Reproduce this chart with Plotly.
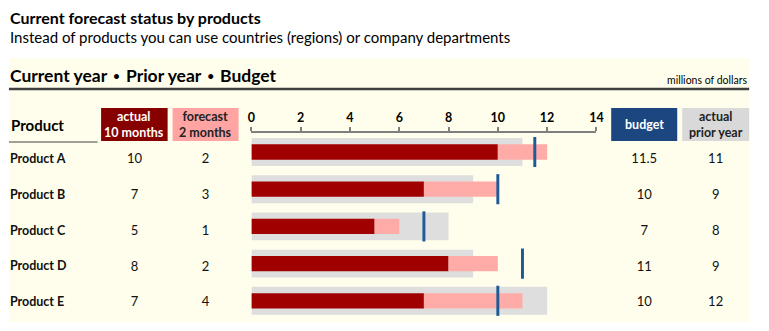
import plotly.graph_objects as go

# ---- data (millions of dollars) ----
products = ["Product A", "Product B", "Product C", "Product D", "Product E"]
actual_10m = [10, 7, 5, 8, 7]
forecast_2m = [2, 3, 1, 2, 4]
budget = [11.5, 10, 7, 11, 10]
prior_year = [11, 9, 8, 9, 12]
axis_ticks = [0, 2, 4, 6, 8, 10, 12, 14]

W, H = 769, 331

RED = "#A00000"
RED_BOX = "#870000"
PINK = "#FFABA8"
PINK_BOX = "#FFA3A3"
GREY = "#DEDEDE"
GREY_BOX = "#D9D9D9"
NAVY = "#1F5A96"
NAVY_BOX = "#1B4680"
CREAM = "#FFFEEC"
FONT = "Lato"
MARK_W = 0.12  # budget tick thickness in axis units


def px(x):
    return x / W


def py(y):
    return 1 - y / H


rows = list(range(len(products)))

fig = go.Figure()

# prior year (grey background bar)
fig.add_trace(go.Bar(
    y=rows, x=prior_year, orientation="h", width=0.75,
    marker=dict(color=GREY, line=dict(width=0)), xaxis="x", yaxis="y",
))
# actual 10 months
fig.add_trace(go.Bar(
    y=rows, x=actual_10m, orientation="h", width=0.41,
    marker=dict(color=RED, line=dict(width=0)), xaxis="x", yaxis="y",
))
# forecast 2 months, stacked after the actual value
fig.add_trace(go.Bar(
    y=rows, x=forecast_2m, base=actual_10m, orientation="h", width=0.41,
    marker=dict(color=PINK, line=dict(width=0)), xaxis="x", yaxis="y",
))
# budget marker: thin vertical bar centred on the budget value
fig.add_trace(go.Bar(
    y=rows, x=[MARK_W] * len(budget), base=[b - MARK_W / 2 for b in budget],
    orientation="h", width=0.81,
    marker=dict(color=NAVY, line=dict(width=0)), xaxis="x", yaxis="y",
))


# ---- table text on a full-figure helper subplot ----
def col_text(xpos, values, color="#111111", bold=False, pos="middle center", size=13):
    txt = [("<b>%s</b>" % v) if bold else str(v) for v in values]
    fig.add_trace(go.Scatter(
        x=[xpos] * len(values), y=rows, text=txt, mode="text",
        textposition=pos, xaxis="x2", yaxis="y2",
        textfont=dict(family=FONT, size=size, color=color),
    ))

col_text(6, products, bold=True, pos="middle right", size=12.5)
col_text(132.5, actual_10m)
col_text(204.5, forecast_2m)
col_text(649.5, budget)
col_text(722, prior_year)

# ---- background panel and header boxes ----
shapes = [
    dict(type="rect", xref="paper", yref="paper", x0=px(5), x1=px(756),
         y0=py(322), y1=py(58), fillcolor=CREAM, line=dict(width=0), layer="below"),
    dict(type="line", xref="paper", yref="paper", x0=px(5), x1=px(756),
         y0=py(89), y1=py(89), line=dict(color="#404040", width=2.5)),
    dict(type="line", xref="paper", yref="paper", x0=px(5), x1=px(95),
         y0=py(142), y1=py(142), line=dict(color="#404040", width=1.2)),
]
boxes = [
    (98.5, 166, RED_BOX, "<b>actual<br>10 months</b>", "white"),
    (171, 238, PINK_BOX, "<b>forecast<br>2 months</b>", "#222222"),
    (616, 683, NAVY_BOX, "<b>budget</b>", "white"),
    (688, 756, GREY_BOX, "<b>actual<br>prior year</b>", "#222222"),
]
annotations = []
for x0, x1, fill, label, fc in boxes:
    shapes.append(dict(type="rect", xref="paper", yref="paper", x0=px(x0), x1=px(x1),
                       y0=py(141), y1=py(108), fillcolor=fill, line=dict(width=0),
                       layer="below"))
    annotations.append(dict(xref="paper", yref="paper", x=px((x0 + x1) / 2), y=py(124.5),
                            text=label, showarrow=False, xanchor="center", yanchor="middle",
                            font=dict(family=FONT, size=12.5, color=fc)))

dot = '<span style="font-family:DejaVu Sans;font-size:14px"> • </span>'
annotations += [
    dict(xref="paper", yref="paper", x=px(4), y=py(17), text="<b>Current forecast status by products</b>",
         showarrow=False, xanchor="left", yanchor="middle",
         font=dict(family=FONT, size=16, color="black")),
    dict(xref="paper", yref="paper", x=px(4), y=py(37),
         text="Instead of products you can use countries (regions) or company departments",
         showarrow=False, xanchor="left", yanchor="middle",
         font=dict(family=FONT, size=15, color="black")),
    dict(xref="paper", yref="paper", x=px(4), y=py(76),
         text="<b>Current year" + dot + "Prior year" + dot + "Budget</b>",
         showarrow=False, xanchor="left", yanchor="middle",
         font=dict(family=FONT, size=17.5, color="black")),
    dict(xref="paper", yref="paper", x=px(756), y=py(80), text="millions of dollars",
         showarrow=False, xanchor="right", yanchor="middle",
         font=dict(family=FONT, size=10.5, color="black")),
    dict(xref="paper", yref="paper", x=px(5), y=py(125), text="<b>Product</b>",
         showarrow=False, xanchor="left", yanchor="middle",
         font=dict(family=FONT, size=15, color="black")),
]

# bar axis: row i centred at pixel 152 + 37.2*i
bar_top = -152 / 37.2
bar_bot = (H - 152) / 37.2
# text axis: row i centred at pixel 160 + 35.75*i
txt_top = -160 / 35.75
txt_bot = (H - 160) / 35.75

fig.update_layout(
    width=W, height=H, margin=dict(l=0, r=0, t=0, b=0),
    paper_bgcolor="white", plot_bgcolor="rgba(0,0,0,0)",
    barmode="overlay", showlegend=False, hovermode=False,
    shapes=shapes, annotations=annotations,
    xaxis=dict(domain=[px(251), px(601)], range=[0, 14], side="top", anchor="free",
               position=py(132), tickvals=axis_ticks, showline=True, linecolor="#808080",
               linewidth=1.5, ticks="outside", ticklen=4, tickwidth=1.5, tickcolor="#808080",
               showgrid=False, zeroline=False,
               tickfont=dict(family=FONT, size=12.5, color="black", weight="bold")),
    yaxis=dict(domain=[0, 1], range=[bar_bot, bar_top], visible=False, anchor="x"),
    xaxis2=dict(domain=[0, 1], range=[0, W], visible=False, anchor="y2"),
    yaxis2=dict(domain=[0, 1], range=[txt_bot, txt_top], visible=False, anchor="x2"),
)

fig.write_html("out.html")
